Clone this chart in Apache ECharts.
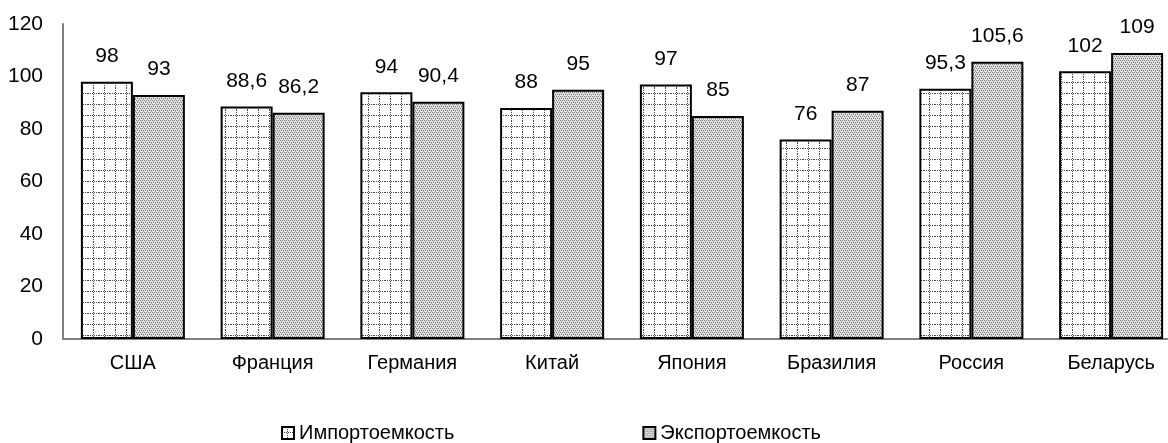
<!DOCTYPE html>
<html><head><meta charset="utf-8">
<script src="https://cdn.jsdelivr.net/npm/echarts@6/dist/echarts.min.js"></script>
<style>html,body{margin:0;padding:0;background:#fff}#c{width:1168px;height:443px}</style>
</head><body><div id="c"></div>
<script>
const categories = ['США', 'Франция', 'Германия', 'Китай', 'Япония', 'Бразилия', 'Россия', 'Беларусь'];
const importValues = [98, 88.6, 94, 88, 97, 76, 95.3, 102];
const exportValues = [93, 86.2, 90.4, 95, 85, 87, 105.6, 109];
const seriesNames = ['Импортоемкость', 'Экспортоемкость'];
const yTicks = { min: 0, max: 120, interval: 20 };

const FONT = "'Liberation Sans', Arial, sans-serif";

function gridPattern() {
  const c = document.createElement('canvas');
  c.width = 11; c.height = 11;
  const g = c.getContext('2d');
  g.fillStyle = '#ffffff'; g.fillRect(0, 0, 11, 11);
  g.fillStyle = '#444444';
  for (let i = 0; i < 11; i += 2) { g.fillRect(5, i, 1, 1); g.fillRect(i, 5, 1, 1); }
  return { image: c, repeat: 'repeat' };
}
function stipplePattern() {
  const c = document.createElement('canvas');
  c.width = 4; c.height = 4;
  const g = c.getContext('2d');
  g.fillStyle = '#e4e4e4'; g.fillRect(0, 0, 4, 4);
  g.fillStyle = '#808080';
  g.fillRect(0, 0, 1, 1); g.fillRect(2, 0, 1, 1);
  g.fillRect(1, 2, 1, 1); g.fillRect(3, 2, 1, 1);
  g.fillStyle = '#b4b4b4';
  g.fillRect(1, 1, 1, 1); g.fillRect(3, 3, 1, 1);
  return { image: c, repeat: 'repeat' };
}
const fmt = p => String(p.value).replace('.', ',');

const chart = echarts.init(document.getElementById('c'), null, { renderer: 'canvas' });
chart.setOption({
  animation: false,
  backgroundColor: '#fff',
  grid: { left: 63, width: 1118, top: 24, height: 315, containLabel: false, outerBoundsMode: 'none' },
  legend: {
    bottom: -5, left: 276, itemGap: 188, itemWidth: 12, itemHeight: 12, icon: 'rect',
    textStyle: { fontFamily: FONT, fontSize: 20, color: '#000' },
    data: seriesNames
  },
  xAxis: {
    type: 'category', data: categories,
    axisLine: { lineStyle: { color: '#808080', width: 2 } },
    axisTick: { show: false },
    axisLabel: { fontFamily: FONT, fontSize: 20, color: '#000', margin: 14 }
  },
  yAxis: {
    type: 'value', min: yTicks.min, max: yTicks.max, interval: yTicks.interval,
    axisLine: { show: true, lineStyle: { color: '#808080', width: 2 } },
    axisTick: { show: false },
    splitLine: { show: false },
    axisLabel: { fontFamily: FONT, fontSize: 21, color: '#000', margin: 20 }
  },
  series: [
    {
      name: seriesNames[0], type: 'bar', data: importValues, barWidth: 52, barGap: '0%',
      itemStyle: { color: gridPattern(), borderColor: '#000', borderWidth: 2 },
      label: { show: true, position: 'top', distance: 15, formatter: fmt, fontFamily: FONT, fontSize: 21, color: '#000' }
    },
    {
      name: seriesNames[1], type: 'bar', data: exportValues, barWidth: 52, barGap: '0%',
      itemStyle: { color: stipplePattern(), borderColor: '#000', borderWidth: 2 },
      label: { show: true, position: 'top', distance: 15, formatter: fmt, fontFamily: FONT, fontSize: 21, color: '#000' }
    }
  ]
});
</script></body></html>
